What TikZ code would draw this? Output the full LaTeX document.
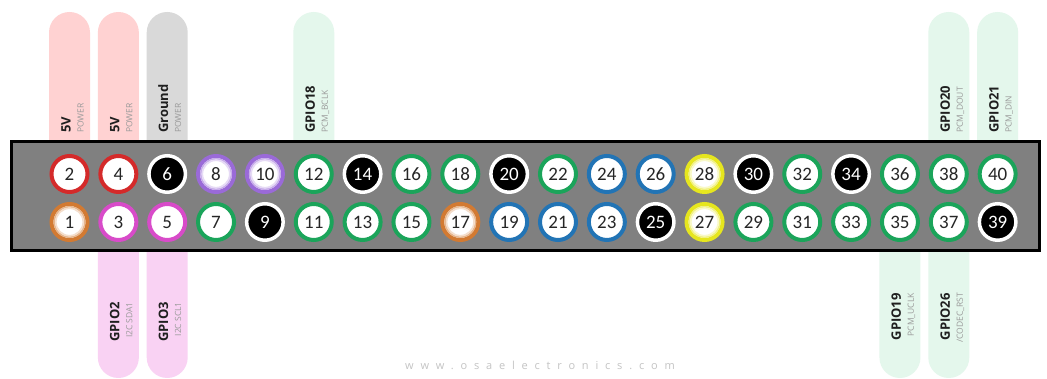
\documentclass[tikz,border=0pt]{standalone}
\usepackage{fontspec}
\setmainfont{Open Sans}
\newfontfamily\pinfont{Carlito}
\newfontfamily\wmfont[LetterSpace=62]{Open Sans}
\newcommand\codecrst{/CODEC\_RST}
\definecolor{pinred}{HTML}{D42A2A}
\definecolor{pinorange}{HTML}{D27A32}
\definecolor{pinmag}{HTML}{D84BC9}
\definecolor{pinpurple}{HTML}{9A6AD8}
\definecolor{pingreen}{HTML}{1BA45A}
\definecolor{pinblue}{HTML}{2274B5}
\definecolor{pinyellow}{HTML}{E6E61E}
\definecolor{boxgray}{HTML}{808080}
\definecolor{pillpink}{HTML}{FFD2D2}
\definecolor{pillgray}{HTML}{D9D9D9}
\definecolor{pillmint}{HTML}{E4F7EC}
\definecolor{pillmag}{HTML}{F9D2F3}
\definecolor{subgray}{HTML}{9A9A9A}
\definecolor{wmgray}{HTML}{C4C4C4}
\begin{document}
\begin{tikzpicture}[x=1pt,y=1pt,
  pinbase/.style={circle, inner sep=0pt, font=\pinfont\fontsize{19}{19}\selectfont, text=black!85},
  ringcol/.style={pinbase, minimum size=36pt, line width=4pt, draw=#1, fill=white},
  ringred/.style={ringcol=pinred},
  ringmag/.style={ringcol=pinmag},
  ringpurple/.style={ringcol=pinpurple},
  ringgreen/.style={ringcol=pingreen},
  ringblue/.style={ringcol=pinblue},
  ringorange/.style={ringcol=pinorange},
  ringyellow/.style={ringcol=pinyellow},
  ringgnd/.style={pinbase, minimum size=36.5pt, line width=3.5pt, draw=white, fill=black, text=white},
  glowa/.style={draw=#1!55, line width=1.6pt},
  glowb/.style={draw=#1!25, line width=1.6pt},
  mainlbl/.style={rotate=90, inner sep=0pt, font=\bfseries\fontsize{13}{13}\selectfont, text=black!88},
  sublbl/.style={rotate=90, inner sep=0pt, font=\fontsize{8.5}{8.5}\selectfont, text=subgray},
  header/.style={draw=black, line width=3pt, fill=boxgray, inner sep=0pt, anchor=south west}
]
\useasboundingbox (0,0) rectangle (1047,379);
\fill[white] (0,0) rectangle (1047,379);
% top pills
\foreach \c/\col in {1/pillpink, 2/pillpink, 3/pillgray, 6/pillmint, 19/pillmint, 20/pillmint} {
  \pgfmathsetmacro\cx{69.5+48.85*(\c-1)}
  \fill[\col] (\cx-20.5,236) -- (\cx-20.5,346.5) arc[start angle=180,end angle=0,radius=20.5] -- (\cx+20.5,236) -- cycle;
}
% bottom pills
\foreach \c/\col in {2/pillmag, 3/pillmag, 18/pillmint, 19/pillmint} {
  \pgfmathsetmacro\cx{69.5+48.85*(\c-1)}
  \fill[\col] (\cx-20.5,127) -- (\cx-20.5,21.5) arc[start angle=180,end angle=360,radius=20.5] -- (\cx+20.5,127) -- cycle;
}
% header
\node[header, minimum width=1028pt, minimum height=109pt] (hdr) at (10,127) {};
% pins
\foreach \s [count=\i] in {red,red,gnd,purple,purple,green,gnd,green,green,gnd,green,blue,blue,yellow,gnd,green,gnd,green,green,green} {
  \pgfmathtruncatemacro\n{2*\i}
  \node[ring\s] (p\n) at ({69.5+48.85*(\i-1)},205) {\n};
}
\foreach \s [count=\i] in {orange,mag,mag,green,gnd,green,green,green,orange,blue,blue,blue,gnd,yellow,green,green,green,green,green,gnd} {
  \pgfmathtruncatemacro\n{2*\i-1}
  \node[ring\s] (p\n) at ({69.5+48.85*(\i-1)},157) {\n};
}
% soft inner glow of some rings
\foreach \p/\col in {p1/pinorange, p17/pinorange, p27/pinyellow, p28/pinyellow, p8/pinpurple, p10/pinpurple} {
  \draw[glowa=\col] (\p.center) circle[radius=15.2];
  \draw[glowb=\col] (\p.center) circle[radius=13.7];
}
% top labels
\foreach \c/\m/\t [count=\k] in {1/5V/POWER, 2/5V/POWER, 3/Ground/POWER, 6/GPIO18/PCM\_BCLK, 19/GPIO20/PCM\_DOUT, 20/GPIO21/PCM\_DIN} {
  \pgfmathsetmacro\cx{69.5+48.85*(\c-1)}
  \node[mainlbl, anchor=base west] (tm\k) at (\cx+1,246) {\m};
  \node[sublbl, anchor=base west] (ts\k) at (\cx+14,246) {\t};
}
% bottom labels
\foreach \c/\m/\t/\y [count=\k] in {2/GPIO2/I2C SDA1/77, 3/GPIO3/I2C SCL1/77, 18/GPIO19/PCM\_UCLK/86, 19/GPIO26/\codecrst/86} {
  \pgfmathsetmacro\cx{69.5+48.85*(\c-1)}
  \node[mainlbl, anchor=base east] (bm\k) at (\cx+1,\y) {\m};
  \node[sublbl, anchor=base east] (bs\k) at (\cx+14,\y) {\t};
}
% watermark
\node[inner sep=0pt, text=wmgray, font=\wmfont\fontsize{11}{11}\selectfont] (wm) at (540,14) {www.osaelectronics.com};
\end{tikzpicture}
\end{document}
